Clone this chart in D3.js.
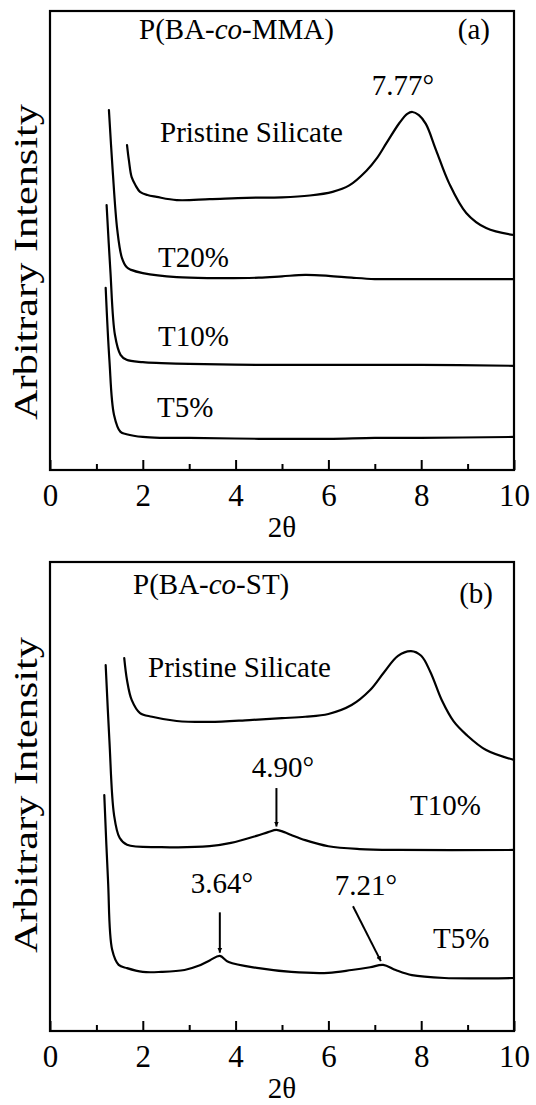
<!DOCTYPE html>
<html>
<head>
<meta charset="utf-8">
<script src="https://cdn.jsdelivr.net/npm/d3@7"></script>
<style>
  html, body { margin: 0; padding: 0; background: #fff; }
  svg { display: block; }
  text { font-family: "Liberation Serif", "Times New Roman", serif !important; fill: #000; }
</style>
</head>
<body>
<script>
// ---------------- data ----------------
const xMajorTicks = [0, 2, 4, 6, 8, 10];
const xMinorTicks = [1, 3, 5, 7, 9];
const xLabel = "2θ";
const yLabel = "Arbitrary Intensity";

// Panel (a) P(BA-co-MMA)
const aPristineX = [1.66,1.70,1.76,1.85,1.94,2.1,2.3,2.73,3.44,4.24,5.0,5.6,6.09,6.45,6.82,7.05,7.25,7.53,7.7,7.81,7.95,8.1,8.32,8.6,8.97,9.4,10];
const aPristineY = [70.8,67.5,63.8,61.9,60.6,59.9,59.5,58.8,59.0,59.3,59.4,59.8,60.6,62.0,65.2,68.0,71.2,75.6,77.6,78.0,77.3,75.4,69.7,62.5,56.0,52.7,51.2];
const aT20X = [1.27,1.35,1.45,1.55,1.65,1.75,2.0,2.73,3.5,4.5,5.0,5.5,6.0,6.5,7,8,9,10];
const aT20Y = [78.4,65.4,52.3,46.2,44.2,43.6,42.9,42.0,41.8,41.9,42.2,42.5,42.3,41.9,41.6,41.6,41.6,41.6];
const aT10X = [1.22,1.30,1.40,1.52,1.65,2.0,2.4,3,4.5,6,8,10];
const aT10Y = [57.7,43.6,29.4,25.1,24.0,23.5,23.3,23.1,22.9,22.9,22.9,22.7];
const aT5X = [1.20,1.28,1.38,1.52,1.65,2.0,2.4,3,4.5,6,7,8,10];
const aT5Y = [39.7,24.0,12.0,8.3,7.8,7.2,7.0,7.0,6.8,6.8,7.0,7.0,7.2];

// Panel (b) P(BA-co-ST)
const bPristineX = [1.6,1.66,1.76,1.94,2.2,2.73,3.44,4.3,5,5.5,6,6.5,6.9,7.2,7.5,7.78,8.0,8.2,8.45,8.7,8.97,9.4,10];
const bPristineY = [79.5,74.8,70.6,67.8,67.0,66.1,65.9,66.3,66.7,67.0,67.6,69.5,72.7,76.5,80.0,81.0,80.0,76.5,70.4,66.0,63.2,59.9,57.8];
const bT10X = [1.2,1.28,1.38,1.5,1.66,2.4,3.44,3.9,4.45,4.7,4.88,5.05,5.2,5.5,6.0,6.67,7.5,10];
const bT10Y = [78.0,62.0,46.1,41.2,39.7,39.2,39.4,40.1,41.6,42.4,42.9,42.4,41.8,40.7,39.4,38.8,38.6,38.6];
const bT5X = [1.17,1.25,1.34,1.48,1.66,2.0,2.4,2.9,3.2,3.45,3.66,3.85,4.5,5.2,6,6.5,6.9,7.18,7.45,7.8,8.5,10];
const bT5Y = [50.3,32.2,17.3,14.1,13.4,12.6,12.6,13.0,13.9,15.1,16.0,14.7,13.4,12.6,12.4,13.0,13.6,14.1,13.0,11.9,11.3,11.3];

const zip = (xs, ys) => xs.map((x, i) => [x, ys[i]]);

// ---------------- layout ----------------
const W = 536, H = 1105;
const left = 50, right = 514;
const panels = [
  {
    top: 11, bottom: 470,
    series: [zip(aPristineX, aPristineY), zip(aT20X, aT20Y), zip(aT10X, aT10Y), zip(aT5X, aT5Y)],
    texts: [
      {t: ["P(BA-", {i: "co"}, "-MMA)"], x: 139, y: 39},
      {t: ["(a)"], x: 490, y: 39, anchor: "end"},
      {t: ["7.77°"], x: 403, y: 95, anchor: "middle"},
      {t: ["Pristine Silicate"], x: 160, y: 142},
      {t: ["T20%"], x: 158, y: 267},
      {t: ["T10%"], x: 158, y: 346},
      {t: ["T5%"], x: 157, y: 417}
    ],
    arrows: [],
    yLabelCenter: 262
  },
  {
    top: 562, bottom: 1031,
    series: [zip(bPristineX, bPristineY), zip(bT10X, bT10Y), zip(bT5X, bT5Y)],
    texts: [
      {t: ["P(BA-", {i: "co"}, "-ST)"], x: 133, y: 594},
      {t: ["(b)"], x: 493, y: 603, anchor: "end"},
      {t: ["Pristine Silicate"], x: 148, y: 677},
      {t: ["4.90°"], x: 283, y: 777, anchor: "middle"},
      {t: ["T10%"], x: 410, y: 815},
      {t: ["3.64°"], x: 222, y: 893, anchor: "middle"},
      {t: ["7.21°"], x: 366, y: 895, anchor: "middle"},
      {t: ["T5%"], x: 433, y: 948}
    ],
    arrows: [
      {x1: 4.88, y1: 51.8, x2: 4.88, y2: 43.6},
      {x1: 3.66, y1: 25.3, x2: 3.66, y2: 16.7},
      {x1: 6.53, y1: 26.6, x2: 7.13, y2: 14.9}
    ],
    yLabelCenter: 795
  }
];

const svg = d3.select("body").append("svg")
  .attr("width", W).attr("height", H)
  .attr("viewBox", `0 0 ${W} ${H}`);
svg.append("rect").attr("width", W).attr("height", H).attr("fill", "#fff");

const defs = svg.append("defs");
defs.append("marker")
  .attr("id", "arrowhead")
  .attr("viewBox", "0 0 10 10")
  .attr("refX", 10).attr("refY", 5)
  .attr("markerWidth", 5).attr("markerHeight", 7)
  .attr("markerUnits", "userSpaceOnUse")
  .attr("orient", "auto")
  .append("path").attr("d", "M0,0 L10,5 L0,10 Z").attr("fill", "#000");

const serif = "'Liberation Serif', 'Times New Roman', serif";

panels.forEach(p => {
  const x = d3.scaleLinear().domain([0, 10]).range([left, right]);
  const y = d3.scaleLinear().domain([0, 100]).range([p.bottom, p.top]);
  const g = svg.append("g");

  const major = d3.axisBottom(x).tickValues(xMajorTicks).tickSizeInner(-10).tickSizeOuter(0)
    .tickFormat(d3.format("d"));
  const gMaj = g.append("g").attr("transform", `translate(0,${p.bottom})`).call(major)
    .attr("font-family", serif);
  gMaj.select(".domain").remove();
  gMaj.selectAll(".tick line").attr("stroke", "#000").attr("stroke-width", 2);
  gMaj.selectAll(".tick text")
    .style("font-family", serif)
    .attr("font-size", 31).attr("fill", "#000")
    .attr("dy", null).attr("y", 36);

  const minor = d3.axisBottom(x).tickValues(xMinorTicks).tickSizeInner(-6).tickSizeOuter(0).tickFormat("");
  const gMin = g.append("g").attr("transform", `translate(0,${p.bottom})`).call(minor);
  gMin.select(".domain").remove();
  gMin.selectAll(".tick line").attr("stroke", "#000").attr("stroke-width", 2);

  g.append("rect")
    .attr("x", left).attr("y", p.top)
    .attr("width", right - left).attr("height", p.bottom - p.top)
    .attr("fill", "none").attr("stroke", "#000").attr("stroke-width", 2.2);

  g.append("text").attr("x", (left + right) / 2).attr("y", p.bottom + 67)
    .attr("text-anchor", "middle").attr("font-size", 29).text(xLabel);
  g.append("text")
    .attr("transform", `translate(37,${p.yLabelCenter}) rotate(-90)`)
    .attr("text-anchor", "middle").attr("font-size", 33)
    .attr("textLength", 316).attr("lengthAdjust", "spacingAndGlyphs")
    .text(yLabel);

  const line = d3.line().x(d => x(d[0])).y(d => y(d[1])).curve(d3.curveCatmullRom.alpha(0.5));
  p.series.forEach(s => {
    g.append("path").datum(s).attr("d", line)
      .attr("fill", "none").attr("stroke", "#000").attr("stroke-width", 2.2)
      .attr("stroke-linejoin", "round").attr("stroke-linecap", "round");
  });

  p.texts.forEach(tx => {
    const t = g.append("text").attr("x", tx.x).attr("y", tx.y).attr("font-size", 29)
      .attr("text-anchor", tx.anchor || "start");
    tx.t.forEach(part => {
      if (typeof part === "string") t.append("tspan").text(part);
      else t.append("tspan").attr("font-style", "italic").text(part.i);
    });
  });

  p.arrows.forEach(a => {
    g.append("line")
      .attr("x1", x(a.x1)).attr("y1", y(a.y1))
      .attr("x2", x(a.x2)).attr("y2", y(a.y2))
      .attr("stroke", "#000").attr("stroke-width", 2)
      .attr("marker-end", "url(#arrowhead)");
  });
});
</script>
</body>
</html>
